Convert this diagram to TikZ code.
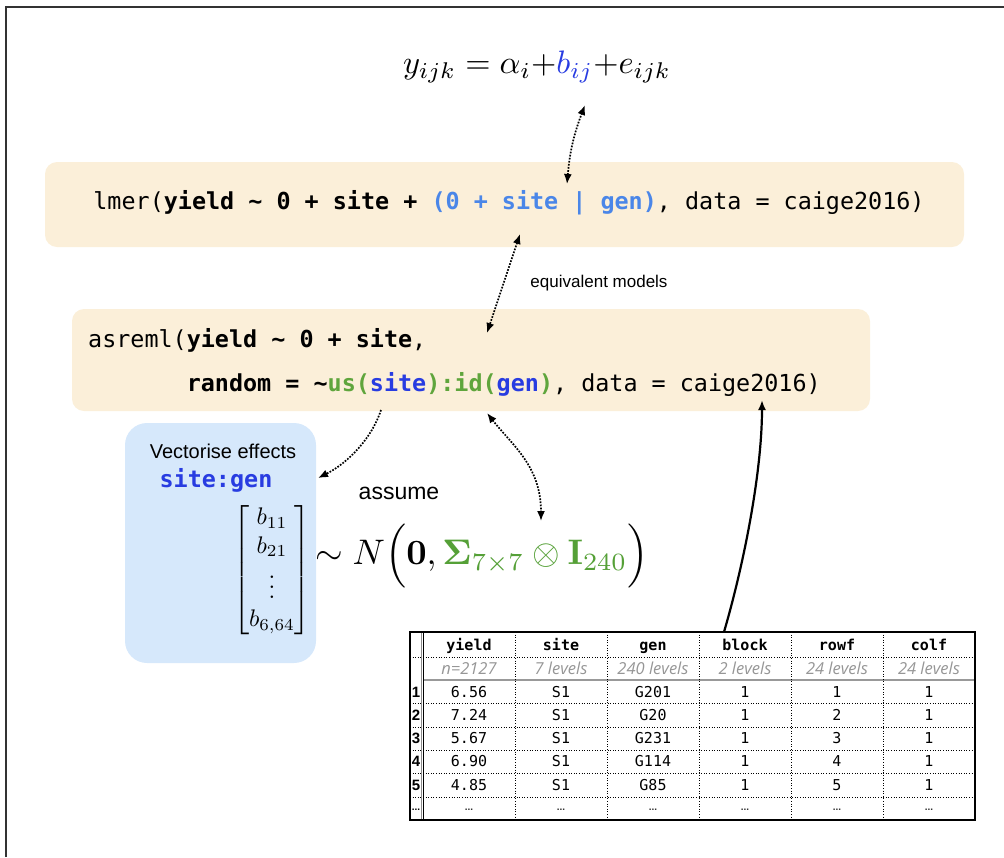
\documentclass[tikz,border=0pt]{standalone}
\usepackage{amsmath}
\usepackage[no-math]{fontspec}
\newfontfamily\codefont{DejaVu Sans Mono}
\newfontfamily\helv{Liberation Sans}
\newfontfamily\lvlfont{Open Sans}
\usetikzlibrary{arrows.meta}
\definecolor{cream}{RGB}{251,239,217}
\definecolor{lblue}{RGB}{214,232,251}
\definecolor{lmblue}{RGB}{74,134,232}
\definecolor{ablue}{RGB}{40,60,225}
\definecolor{agreen}{RGB}{95,165,60}
\definecolor{sgreen}{RGB}{85,160,55}
\definecolor{lvlgray}{RGB}{150,150,150}
\begin{document}
\begin{tikzpicture}[x=1pt,y=-1pt,
  cbox/.style={fill=cream, draw=none, rounded corners=12pt, inner sep=0pt},
  bbox/.style={fill=lblue, draw=none, rounded corners=22pt, inner sep=0pt},
  code/.style={font=\codefont\fontsize{23.4}{28}\selectfont, inner sep=0pt},
  lbl/.style={font=\helv\fontsize{17}{20}\selectfont, inner sep=0pt},
  dotarr/.style={line width=1.7pt, dash pattern=on 1.7pt off 1.4pt},
  tip/.style={-{Latex[length=10pt,width=8pt]}},
  tips/.style={{Latex[length=10pt,width=8pt]}-{Latex[length=10pt,width=8pt]}},
  hd/.style={font=\codefont\bfseries\fontsize{15}{17}\selectfont, inner sep=0pt},
  lv/.style={font=\lvlfont\itshape\fontsize{16.5}{19}\selectfont, text=lvlgray, inner sep=0pt},
  val/.style={font=\codefont\fontsize{15}{17}\selectfont, inner sep=0pt},
  idx/.style={font=\helv\bfseries\fontsize{15}{17}\selectfont, inner sep=0pt},
  tdot/.style={line width=0.9pt, dash pattern=on 1pt off 1.6pt}
]
\useasboundingbox (0,0) rectangle (1004,857);
% frame
\draw[line width=1.5pt, black!80] (6,857) -- (6,7) -- (1004,7);

% equation
\node[inner sep=0pt] (eq) at (537,67)
  {\scalebox{3.25}{$y_{ijk} = \alpha_i{+}\textcolor{ablue}{b_{ij}}{+}e_{ijk}$}};

% lmer box
\node[cbox, minimum width=919pt, minimum height=85pt] (lmbox) at (504.5,204.5) {};
\node[code, anchor=base] (lmtext) at (509,209)
  {lmer(\textbf{yield {\char"7E} 0 + site + }\textcolor{lmblue}{\textbf{(0 + site | gen)}}, data = caige2016)};

% equivalent models
\node[lbl] (equiv) at (599,283) {equivalent models};

% asreml box
\node[cbox, minimum width=798pt, minimum height=102pt] (asbox) at (471,360) {};
\node[code, anchor=base west] (as1) at (88,347)
  {asreml(\textbf{yield {\char"7E} 0 + site},};
\node[code, anchor=base west] (as2) at (186.6,391)
  {\textbf{random = {\char"7E}\textcolor{agreen}{us(}\textcolor{ablue}{site}\textcolor{agreen}{):id(}\textcolor{ablue}{gen}\textcolor{agreen}{)}}, data = caige2016)};

% blue box
\node[bbox, minimum width=191pt, minimum height=240pt] (vbox) at (220.5,543) {};
\node[font=\helv\fontsize{20}{24}\selectfont, inner sep=0pt] (vect) at (223,451) {Vectorise effects};
\node[font=\codefont\bfseries\fontsize{23.4}{28}\selectfont, text=ablue, inner sep=0pt] (sg) at (216,480) {site:gen};
\node[inner sep=0pt] (vec) at (272,570)
  {\scalebox{2.4}{$\begin{bmatrix} b_{11}\\ b_{21}\\ \vdots \\ b_{6,64}\end{bmatrix}$}};

% assume
\node[font=\helv\fontsize{23}{27}\selectfont, inner sep=0pt] (assume) at (399,493) {assume};

% distribution
\node[inner sep=0pt, anchor=west] (dist) at (315,556)
  {\scalebox{3.55}{$\sim N\Big(\mathbf{0}, \textcolor{sgreen}{\mathbf{\Sigma}_{7\times7}\otimes\mathbf{I}_{240}}\Big)$}};

% table
\draw[line width=0.8pt, black!45] (421,632) -- (421,820);
\draw[line width=1.2pt] (423.5,632) -- (423.5,820);
\foreach \yy in {657,703.5,727,750,773.5,797}
  \draw[tdot] (410,\yy) -- (975,\yy);
\draw[line width=1.6pt, black!40] (423.5,680) -- (975,680);
\foreach \xx in {515,607,699,791,883}
  \draw[tdot] (\xx,632) -- (\xx,820);
\node[draw, line width=1.2pt, minimum width=565pt, minimum height=188pt, inner sep=0pt] (tbl) at (692.5,726) {};

\foreach \t [count=\i] in {yield,site,gen,block,rowf,colf}
  \node[hd, anchor=base] (h\i) at (377+92*\i,650) {\t};
\foreach \t [count=\i] in {n=2127,7 levels,240 levels,2 levels,24 levels,24 levels}
  \node[lv, anchor=base] (l\i) at (377+92*\i,674) {\t};

\foreach \r/\a/\b/\c/\d/\e [count=\j] in {6.56/S1/G201/1/1/1, 7.24/S1/G20/1/2/1, 5.67/S1/G231/1/3/1, 6.90/S1/G114/1/4/1, 4.85/S1/G85/1/5/1}{
  \pgfmathsetmacro{\yb}{697+23.3*(\j-1)}
  \node[idx, anchor=base] (i\j) at (416,\yb) {\j};
  \node[val, anchor=base] (v\j a) at (469,\yb) {\r};
  \node[val, anchor=base] (v\j b) at (561,\yb) {\a};
  \node[val, anchor=base] (v\j c) at (653,\yb) {\b};
  \node[val, anchor=base] (v\j d) at (745,\yb) {\c};
  \node[val, anchor=base] (v\j e) at (837,\yb) {\d};
  \node[val, anchor=base] (v\j f) at (929,\yb) {\e};
}
\node[font=\helv\bfseries\fontsize{10}{11}\selectfont, inner sep=0pt] (i6) at (416,810) {...};
\foreach \i in {1,...,6}
  \node[font=\helv\bfseries\fontsize{10}{11}\selectfont, text=black!80, inner sep=0pt] (d\i) at (377+92*\i,810) {...};

% connectors
\coordinate (p1a) at (585,105);
\coordinate (p1b) at (567,184);
\draw[dotarr, tips] (p1b) to[bend left=8] (p1a);

\coordinate (p2a) at (520,234);
\coordinate (p2b) at (487,333);
\draw[dotarr, tips] (p2a) -- (p2b);

\coordinate (p3a) at (381,410);
\coordinate (p3b) at (318,478);
\draw[dotarr, tip] (p3a) .. controls (372,438) and (348,463) .. (p3b);

\coordinate (p4a) at (487,413);
\coordinate (p4b) at (541,521);
\draw[dotarr, tips] (p4a) .. controls (512,445) and (541,466) .. (p4b);

\coordinate (p5a) at (724,632);
\coordinate (p5b) at (762,400);
\draw[line width=2.2pt, tip] (p5a) .. controls (745,560) and (762,470) .. (p5b);
\end{tikzpicture}
\end{document}
